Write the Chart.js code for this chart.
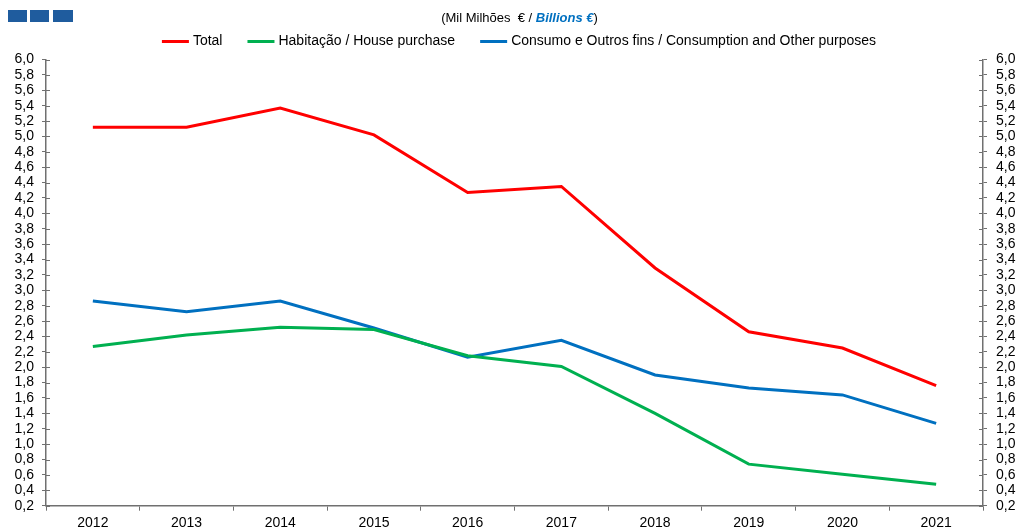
<!DOCTYPE html>
<html><head><meta charset="utf-8">
<script src="https://cdn.jsdelivr.net/npm/chart.js@4/dist/chart.umd.min.js"></script>
<style>html,body{margin:0;padding:0;background:#fff}#wrap{width:1019px;height:529px;position:relative}</style>
</head><body><div id="wrap"><canvas id="c" width="1019" height="529"></canvas></div>
<script>
const years = ['2012','2013','2014','2015','2016','2017','2018','2019','2020','2021'];
const total = [5.12,5.12,5.37,5.02,4.27,4.35,3.29,2.46,2.25,1.76];
const housing = [2.27,2.42,2.52,2.49,2.15,2.01,1.40,0.74,0.61,0.48];
const consumption = [2.86,2.72,2.86,2.51,2.13,2.35,1.90,1.73,1.64,1.27];
const seriesLabels = ['Total','Habitação / House purchase','Consumo e Outros fins / Consumption and Other purposes'];
const seriesColors = ['#FF0000','#00B050','#0070C0'];
const subtitleParts = ['(Mil Milhões  € / ','Billions €',')'];
const yMin = 0.2, yMax = 6.0, yStep = 0.2;

const FONT = '"Liberation Sans", Arial, sans-serif';
const AXIS = '#707070';

const decor = {
  id:'decor',
  afterDraw(chart){
    const ctx = chart.ctx, ca = chart.chartArea;
    ctx.save();
    ctx.strokeStyle = AXIS; ctx.lineWidth = 1;
    ['y','y2'].forEach(id=>{
      const s = chart.scales[id];
      const x = id==='y' ? ca.left : ca.right;
      const dir = id==='y' ? 1 : -1;
      s.ticks.forEach((t,i)=>{
        const py = Math.round(s.getPixelForTick(i))+0.5;
        ctx.beginPath(); ctx.moveTo(x, py); ctx.lineTo(x+dir*4, py); ctx.stroke();
      });
    });
    ctx.fillStyle = '#1f5c9e';
    [[8,19],[30,19],[53,20]].forEach(([x,w])=>ctx.fillRect(x,10,w,12));
    ctx.textBaseline = 'middle';
    const fonts = ['13px '+FONT,'italic bold 13px '+FONT,'13px '+FONT];
    const cols = ['#000','#0070C0','#000'];
    let widths = subtitleParts.map((p,i)=>{ctx.font=fonts[i];return ctx.measureText(p).width;});
    let tw = widths.reduce((a,b)=>a+b,0);
    let x = 519.5 - tw/2;
    subtitleParts.forEach((p,i)=>{ctx.font=fonts[i];ctx.fillStyle=cols[i];ctx.textAlign='left';ctx.fillText(p,x,18.5);x+=widths[i];});
    ctx.font = '14px '+FONT;
    const lw = 27, gapT = 4, gapI = 25;
    const items = chart.data.datasets.map(d=>({label:d.label,color:d.borderColor,w:ctx.measureText(d.label).width}));
    let totalW = items.reduce((a,it)=>a+lw+gapT+it.w,0) + gapI*(items.length-1);
    x = 519 - totalW/2;
    items.forEach(it=>{
      ctx.fillStyle = it.color; ctx.fillRect(x, 40, lw, 3);
      x += lw+gapT;
      ctx.fillStyle = '#000'; ctx.fillText(it.label, x, 41.5);
      x += it.w + gapI;
    });
    ctx.restore();
  }
};

const tickFmt = v => (Math.round(v*10)/10).toFixed(1).replace('.',',');
const yCommon = {
  min:yMin, max:yMax,
  border:{color:AXIS,width:1.5},
  grid:{drawOnChartArea:false,drawTicks:true,tickLength:4,color:AXIS,lineWidth:1},
};

new Chart(document.getElementById('c'),{
  type:'line',
  data:{
    labels:years,
    datasets:[total,housing,consumption].map((d,i)=>({
      label:seriesLabels[i], data:d, borderColor:seriesColors[i], backgroundColor:seriesColors[i],
      borderWidth:3, pointRadius:0, tension:0, fill:false, yAxisID:'y'
    }))
  },
  options:{
    responsive:false, animation:false, devicePixelRatio:1,
    layout:{padding:{top:59.5,left:0,right:0,bottom:0}},
    plugins:{legend:{display:false},tooltip:{enabled:false}},
    scales:{
      x:{
        offset:true,
        border:{color:AXIS,width:1.5},
        grid:{offset:true,drawOnChartArea:false,drawTicks:true,tickLength:5,color:AXIS},
        ticks:{font:{family:FONT,size:14},color:'#000',padding:4,maxRotation:0,autoSkip:false},
        afterFit:s=>{s.height=23.3;}
      },
      y:Object.assign({},yCommon,{position:'left',
        ticks:{stepSize:yStep,autoSkip:false,maxTicksLimit:100,callback:tickFmt,font:{family:FONT,size:14},color:'#000',padding:8},
        afterFit:s=>{s.width=46;}}),
      y2:Object.assign({},yCommon,{position:'right',
        ticks:{stepSize:yStep,autoSkip:false,maxTicksLimit:100,callback:tickFmt,font:{family:FONT,size:14},color:'#000',padding:9},
        afterFit:s=>{s.width=36;}})
    }
  },
  plugins:[decor]
});
</script></body></html>
